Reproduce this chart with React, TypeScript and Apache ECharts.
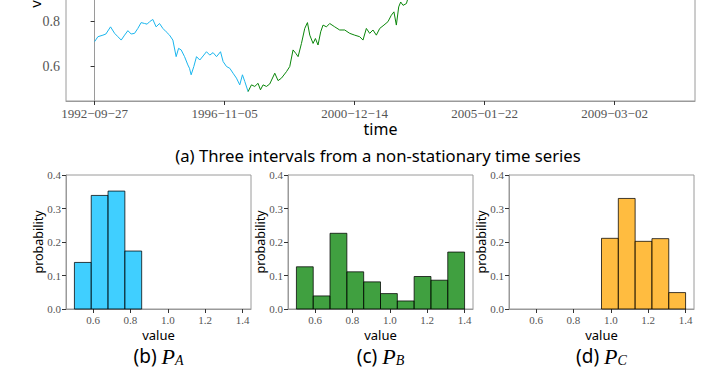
import React, { useEffect, useRef } from "react";
import * as echarts from "echarts";

// ---- time series (days after 1992-09-27) ----
const blueDays = [0, 38, 96, 130, 184, 231, 269, 307, 346, 384, 422, 461, 499, 537, 577, 606, 634, 672, 710, 749, 788, 826, 865, 903, 941, 969, 999, 1038, 1076, 1095, 1114, 1145, 1176, 1214, 1252, 1291, 1329, 1367, 1407, 1453, 1483, 1522, 1560, 1598, 1637, 1675, 1706, 1733, 1771];
const blueValues = [0.710, 0.732, 0.739, 0.744, 0.776, 0.747, 0.732, 0.717, 0.739, 0.759, 0.744, 0.747, 0.769, 0.795, 0.791, 0.788, 0.799, 0.809, 0.776, 0.791, 0.769, 0.754, 0.739, 0.717, 0.643, 0.680, 0.673, 0.643, 0.606, 0.591, 0.562, 0.599, 0.643, 0.628, 0.646, 0.665, 0.650, 0.661, 0.643, 0.665, 0.621, 0.599, 0.591, 0.569, 0.547, 0.517, 0.562, 0.532, 0.487];
const greenDays = [1771, 1810, 1848, 1886, 1914, 1944, 1983, 2021, 2079, 2117, 2156, 2214, 2252, 2290, 2321, 2348, 2387, 2425, 2456, 2483, 2521, 2548, 2578, 2609, 2636, 2675, 2713, 2771, 2828, 2886, 2944, 3001, 3059, 3097, 3136, 3174, 3212, 3251, 3290, 3339, 3385, 3424, 3454, 3482, 3509, 3532, 3559, 3598, 3635, 3682];
const greenValues = [0.487, 0.517, 0.510, 0.524, 0.495, 0.517, 0.510, 0.521, 0.569, 0.536, 0.547, 0.576, 0.599, 0.673, 0.658, 0.643, 0.702, 0.769, 0.795, 0.739, 0.702, 0.724, 0.695, 0.754, 0.784, 0.776, 0.791, 0.776, 0.762, 0.762, 0.747, 0.739, 0.732, 0.717, 0.769, 0.747, 0.762, 0.739, 0.769, 0.784, 0.799, 0.828, 0.843, 0.784, 0.865, 0.887, 0.872, 0.880, 0.930, 0.970];
const tickDays = [0, 1500, 3000, 4500, 6000];
const tickDates = ["1992−09−27", "1996−11−05", "2000−12−14", "2005−01−22", "2009−03−02"];

// ---- histograms ----
const binStart = 0.5;
const binWidth = 0.09;
const probA = [0.139, 0.339, 0.352, 0.173, 0, 0, 0, 0, 0, 0];
const probB = [0.126, 0.039, 0.226, 0.111, 0.081, 0.046, 0.024, 0.097, 0.086, 0.170];
const probC = [0, 0, 0, 0, 0, 0.211, 0.330, 0.202, 0.210, 0.049];
const histTicks = [0.6, 0.8, 1.0, 1.2, 1.4];
const valueTicks = [0.6, 0.8, 1.0, 1.2, 1.4];

const SERIF = "'Liberation Serif', serif";
const SANS = "'Noto Sans', sans-serif";
const LABEL = "#555";
const SPINE = "#9a9a9a";
const OFF = 150; // the top panel is cropped by the page; the canvas extends above it

function histData(p: number[]) {
  return p
    .map((v, i) => [binStart + i * binWidth, binStart + (i + 1) * binWidth, v])
    .filter((d) => d[2] > 0);
}

export default function App() {
  const ref = useRef<HTMLDivElement>(null);
  useEffect(() => {
    const chart = echarts.init(ref.current!, null, { renderer: "svg" });
    const grids = [
      { left: 66, top: -123 + OFF, width: 629, height: 224 },
      { left: 66, top: 175 + OFF, width: 185, height: 134 },
      { left: 288, top: 175 + OFF, width: 185, height: 134 },
      { left: 509, top: 175 + OFF, width: 185, height: 134 },
    ].map((g) => ({ ...g, show: true, borderColor: SPINE, borderWidth: 1, backgroundColor: "transparent" }));

    const axisCommon = {
      axisLine: { show: true, lineStyle: { color: SPINE, width: 1 } },
      axisTick: { show: true, inside: false, length: 4, lineStyle: { color: "#333" } },
      splitLine: { show: false },
      nameMoveOverlap: false,
    };

    const xAxes: any[] = [
      {
        ...axisCommon,
        type: "value",
        gridIndex: 0,
        min: -330,
        max: 6928,
        axisTick: { ...axisCommon.axisTick, customValues: tickDays },
        axisLabel: {
          customValues: tickDays,
          formatter: (v: number) => tickDates[tickDays.indexOf(Math.round(v))] ?? "",
          color: LABEL,
          fontFamily: SERIF,
          fontSize: 13,
          margin: 6,
        },
        name: "time",
        nameLocation: "middle",
        nameGap: 20,
        nameTextStyle: { fontFamily: SANS, fontSize: 16, color: "#000" },
      },
    ];
    const yAxes: any[] = [
      {
        ...axisCommon,
        type: "value",
        gridIndex: 0,
        min: 0.445,
        max: 1.445,
        axisTick: { ...axisCommon.axisTick, customValues: valueTicks },
        axisLabel: {
          customValues: valueTicks,
          formatter: (v: number) => v.toFixed(1),
          color: LABEL,
          fontFamily: SERIF,
          fontSize: 14,
          margin: 6,
        },
        name: "value",
        nameLocation: "middle",
        nameGap: 24,
        nameTextStyle: { fontFamily: SANS, fontSize: 15, color: "#000" },
      },
    ];
    for (let g = 1; g <= 3; g++) {
      xAxes.push({
        ...axisCommon,
        type: "value",
        gridIndex: g,
        min: 0.455,
        max: 1.445,
        axisTick: { ...axisCommon.axisTick, customValues: histTicks },
        axisLabel: {
          customValues: histTicks,
          formatter: (v: number) => v.toFixed(1),
          color: LABEL,
          fontFamily: SERIF,
          fontSize: 11,
          margin: 5,
        },
        name: "value",
        nameLocation: "middle",
        nameGap: 19,
        nameTextStyle: { fontFamily: SANS, fontSize: 13, color: "#000" },
      });
      yAxes.push({
        ...axisCommon,
        type: "value",
        gridIndex: g,
        min: 0,
        max: 0.4,
        interval: 0.1,
        axisLabel: {
          formatter: (v: number) => v.toFixed(1),
          color: LABEL,
          fontFamily: SERIF,
          fontSize: 11,
          margin: 5,
        },
        name: "probability",
        nameLocation: "middle",
        nameGap: 21,
        nameTextStyle: { fontFamily: SANS, fontSize: 12.5, color: "#000" },
      });
    }

    const histSeries = (idx: number, p: number[], color: string) => ({
      type: "custom",
      xAxisIndex: idx,
      yAxisIndex: idx,
      data: histData(p),
      encode: { x: [0, 1], y: 2 },
      renderItem: (params: any, api: any) => {
        const p0 = api.coord([api.value(0), api.value(2)]);
        const p1 = api.coord([api.value(1), 0]);
        return {
          type: "rect",
          shape: { x: p0[0], y: p0[1], width: p1[0] - p0[0], height: p1[1] - p0[1] },
          style: { fill: color, stroke: "#000", lineWidth: 1, opacity: 0.75 },
        };
      },
    });

    const caption = (x: number, letter: string, sub: string) => ({
      type: "text",
      x,
      y: 356 + OFF,
      style: {
        text: `{n|(${letter}) }{p|P}{s|${sub}}`,
        align: "center",
        verticalAlign: "middle",
        textAlign: "center",
        textVerticalAlign: "middle",
        fill: "#000",
        rich: {
          n: { fontFamily: SANS, fontSize: 19, lineHeight: 22, fill: "#000" },
          p: { fontFamily: SERIF, fontStyle: "italic", fontSize: 22, lineHeight: 22, fill: "#000" },
          s: { fontFamily: SERIF, fontStyle: "italic", fontSize: 14, lineHeight: 22, verticalAlign: "bottom", fill: "#000" },
        },
      },
    });

    chart.setOption({
      animation: false,
      backgroundColor: "#fff",
      grid: grids,
      xAxis: xAxes,
      yAxis: yAxes,
      series: [
        {
          type: "line",
          xAxisIndex: 0,
          yAxisIndex: 0,
          data: blueDays.map((d, i) => [d, blueValues[i]]),
          showSymbol: false,
          lineStyle: { color: "#1ab6ee", width: 1 },
          itemStyle: { color: "#1ab6ee" },
        },
        {
          type: "line",
          xAxisIndex: 0,
          yAxisIndex: 0,
          data: greenDays.map((d, i) => [d, greenValues[i]]),
          showSymbol: false,
          lineStyle: { color: "#0a860a", width: 1 },
          itemStyle: { color: "#0a860a" },
        },
        histSeries(1, probA, "#00bfff"),
        histSeries(2, probB, "#008000"),
        histSeries(3, probC, "#ffa500"),
      ],
      graphic: [
        {
          type: "text",
          x: 378,
          y: 155 + OFF,
          style: {
            text: "(a) Three intervals from a non-stationary time series",
            fontFamily: SANS,
            fontSize: 16.7,
            fill: "#000",
            align: "center",
            verticalAlign: "middle",
            textAlign: "center",
            textVerticalAlign: "middle",
          },
        },
        caption(158.5, "b", "A"),
        caption(380.5, "c", "B"),
        caption(601.5, "d", "C"),
      ],
    });
    return () => chart.dispose();
  }, []);
  return (
    <div style={{ position: "fixed", left: 0, top: 0, width: 720, height: 380, overflow: "hidden", background: "#fff" }}>
      <div ref={ref} style={{ position: "absolute", left: 0, top: -OFF, width: 720, height: 380 + OFF }} />
    </div>
  );
}
